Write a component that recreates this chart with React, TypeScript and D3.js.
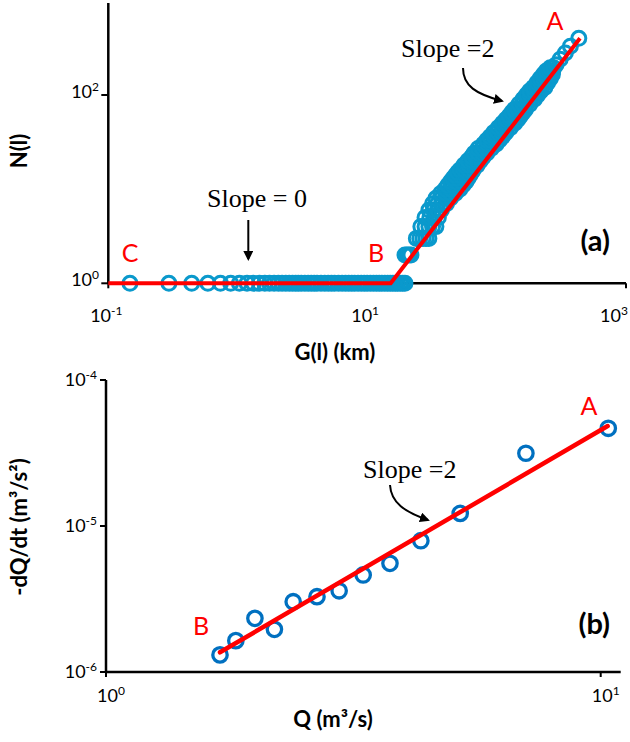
import React from 'react';
import * as d3 from 'd3';

// Panel (a): network extent N(l) versus length G(l)
// Stretch with a single unit (N = 1), plotted from the upstream end
const flatG = [
  0.147, 0.294, 0.441, 0.588, 0.735, 0.882, 1.03, 1.18, 1.32, 1.47, 1.62, 1.76, 1.91,
  2.06, 2.2, 2.35, 2.5, 2.65, 2.8, 2.94, 3.1, 3.3, 3.5, 3.7, 3.9, 4.1, 4.4, 4.7, 5.0,
  5.3, 5.6, 6.0, 6.4, 6.8, 7.2, 7.6, 8.0, 8.5, 9.0, 9.5, 10, 10.6, 11.2, 11.8, 12.4,
  13, 13.7, 14.4, 15.1, 15.8, 16.5, 17.2, 18, 18.8, 19.6,
];
// Growing part of the network (G in km, N count)
const riseG = [
  19.6, 20.3, 21, 21.8,
  24, 25.5, 27, 28.5, 30,
  26, 28, 30, 32, 34,
  28, 30.5, 33, 35.5,
  30, 32.5, 35, 37.5,
  32, 35, 38, 41,
  34, 37.5, 41, 44,
  37, 40.5, 44, 48,
  40, 44, 48, 52,
  42, 46, 50, 55,
  44, 48, 53, 58,
  46, 50, 55, 60,
  48, 52, 57, 62,
  50, 54, 59, 64,
  52, 56, 61, 66,
  56, 61, 66, 71,
  60, 65, 70, 75,
  64, 69, 74, 79,
  67, 72, 78, 84,
  72, 78, 84, 91,
  79, 85, 92, 99,
  84, 90, 97, 105,
  89, 96, 103, 111,
  95, 102, 110, 118,
  103, 111, 119, 128,
  111, 119, 128, 138,
  118, 127, 136, 146,
  125, 134, 143, 153,
  131, 140, 150, 160,
  137, 147, 157, 167,
  149, 160, 170, 181,
  160, 172, 184, 196,
  170, 182, 195, 208,
  180, 193, 206, 220,
  192, 205, 220, 236,
  205, 219, 233, 248,
  217, 231, 245, 260,
  230, 243, 257, 270,
  242, 256, 272,
  260, 276,
  288, 310, 340, 372, 432,
];
const riseN = [
  2, 2, 2, 2,
  3, 3, 3, 3, 3,
  4, 4, 4, 4, 4,
  5, 5, 5, 5,
  6, 6, 6, 6,
  7, 7, 7, 7,
  8, 8, 8, 8,
  9, 9, 9, 9,
  10, 10, 10, 10,
  11, 11, 11, 11,
  12, 12, 12, 12,
  13, 13, 13, 13,
  14, 14, 14, 14,
  15, 15, 15, 15,
  16, 16, 16, 16,
  18, 18, 18, 18,
  20, 20, 20, 20,
  22, 22, 22, 22,
  24, 24, 24, 24,
  27, 27, 27, 27,
  30, 30, 30, 30,
  33, 33, 33, 33,
  36, 36, 36, 36,
  40, 40, 40, 40,
  45, 45, 45, 45,
  50, 50, 50, 50,
  55, 55, 55, 55,
  60, 60, 60, 60,
  65, 65, 65, 65,
  70, 70, 70, 70,
  80, 80, 80, 80,
  90, 90, 90, 90,
  100, 100, 100, 100,
  110, 110, 110, 110,
  120, 120, 120, 120,
  135, 135, 135, 135,
  150, 150, 150, 150,
  165, 165, 165, 165,
  180, 180, 180,
  195, 195,
  210, 240, 280, 330, 400,
];
// Broken-line fit C -> B -> A
const fitAG = [0.1, 15.2, 441];
const fitAN = [1, 1, 400];

// Panel (b): recession rate -dQ/dt versus discharge Q
const flowQ = [1.70, 1.83, 2.0, 2.19, 2.39, 2.67, 2.96, 3.31, 3.75, 4.33, 5.2, 7.06, 10.36];
const recessionRate = [
  1.31e-6, 1.64e-6, 2.33e-6, 1.96e-6, 3.03e-6, 3.28e-6, 3.6e-6, 4.62e-6, 5.55e-6,
  7.93e-6, 1.22e-5, 3.15e-5, 4.67e-5,
];
const fitBQ = [1.7, 10.33];
const fitBRate = [1.364e-6, 4.84e-5];

// Tick exponents
const ticksAX = [-1, 1, 3];
const ticksAY = [0, 2];
const ticksBX = [0, 1];
const ticksBY = [-6, -5, -4];

const SANS = 'Lato, "Liberation Sans", sans-serif';
const SERIF = '"Liberation Serif", "DejaVu Serif", serif';

const xA = d3.scaleLog().domain([0.1, 1000]).range([108.3, 626]);
const yA = d3.scaleLog().domain([1, 1000]).range([283.3, 0.85]);
const xB = d3.scaleLog().domain([1, 10]).range([106, 600.7]);
const yB = d3.scaleLog().domain([1e-6, 1e-4]).range([672, 380]);

function Pow({ x, y, exp, anchor }: { x: number; y: number; exp: number; anchor: string }) {
  return (
    <text x={x} y={y} textAnchor={anchor} fontFamily={SANS} fontSize={18} fill="#000">
      10
      <tspan dy={-7} fontSize={12}>
        {exp < 0 ? '-' + Math.abs(exp) : String(exp)}
      </tspan>
    </text>
  );
}

function CurvedArrow({ d }: { d: string }) {
  return <path d={d} fill="none" stroke="#000" strokeWidth={2} markerEnd="url(#arrowHead)" />;
}

export default function App() {
  const lineA = d3
    .line<number>()
    .x((g) => xA(g))
    .y((_, i) => yA(fitAN[i]));
  const lineB = d3
    .line<number>()
    .x((q) => xB(q))
    .y((_, i) => yB(fitBRate[i]));

  const blueA = '#0a99cc';
  const blueB = '#0070c0';

  return (
    <svg
      width={630}
      height={742}
      style={{ position: 'absolute', left: 0, top: 0, display: 'block', background: '#fff' }}
    >
      <defs>
        <marker
          id="arrowHead"
          viewBox="0 0 10 10"
          refX={8}
          refY={5}
          markerWidth={5}
          markerHeight={5}
          orient="auto"
          markerUnits="strokeWidth"
        >
          <path d="M0,0 L10,5 L0,10 Z" fill="#000" />
        </marker>
      </defs>

      {/* ---------- Panel (a) ---------- */}
      <g>
        <line x1={xA(0.1)} x2={xA(1000)} y1={yA(1)} y2={yA(1)} stroke="#000" strokeWidth={2.5} />
        <line x1={xA(0.1)} x2={xA(0.1)} y1={3} y2={yA(1)} stroke="#000" strokeWidth={2.5} />
        {ticksAX.map((e) => (
          <line
            key={'tax' + e}
            x1={xA(10 ** e)}
            x2={xA(10 ** e)}
            y1={yA(1)}
            y2={yA(1) + 5}
            stroke="#000"
            strokeWidth={2}
          />
        ))}
        {ticksAY.map((e) => (
          <line
            key={'tay' + e}
            x1={xA(0.1) - 7}
            x2={xA(0.1)}
            y1={yA(10 ** e)}
            y2={yA(10 ** e)}
            stroke="#000"
            strokeWidth={2}
          />
        ))}
        {ticksAX.map((e) => (
          <Pow key={'lax' + e} x={Math.min(xA(10 ** e) - 2, 614)} y={322} exp={e} anchor="middle" />
        ))}
        {ticksAY.map((e) => (
          <Pow key={'lay' + e} x={99} y={yA(10 ** e) + 3} exp={e} anchor="end" />
        ))}

        {flatG.map((g, i) => (
          <circle key={'f' + i} cx={xA(g)} cy={yA(1)} r={7} fill="none" stroke={blueA} strokeWidth={3} />
        ))}
        {riseG.map((g, i) => (
          <circle key={'r' + i} cx={xA(g)} cy={yA(riseN[i])} r={7} fill="none" stroke={blueA} strokeWidth={3} />
        ))}
        <path d={lineA(fitAG) || ''} fill="none" stroke="#ff0000" strokeWidth={4} strokeLinejoin="miter" />

        <text x={130} y={262} textAnchor="middle" fontFamily={SANS} fontSize={25} fill="#ff0000">C</text>
        <text x={376} y={262} textAnchor="middle" fontFamily={SANS} fontSize={25} fill="#ff0000">B</text>
        <text x={555} y={30} textAnchor="middle" fontFamily={SANS} fontSize={25} fill="#ff0000">A</text>
        <text x={207} y={207} fontFamily={SERIF} fontSize={26} fill="#000">Slope = 0</text>
        <line x1={248.3} x2={248.3} y1={220} y2={259} stroke="#000" strokeWidth={2} markerEnd="url(#arrowHead)" />
        <text x={401} y={57} fontFamily={SERIF} fontSize={26} fill="#000">Slope =2</text>
        <CurvedArrow d="M463,68 C463,86 476,94 502,101" />
        <text x={610} y={251} textAnchor="end" fontFamily={SANS} fontWeight="bold" fontSize={29} fill="#000">(a)</text>

        <text x={335} y={360} textAnchor="middle" fontFamily={SANS} fontWeight="bold" fontSize={22}>G(l) (km)</text>
        <text
          transform="translate(27,151) rotate(-90)"
          textAnchor="middle"
          fontFamily={SANS}
          fontWeight="bold"
          fontSize={22}
        >
          N(l)
        </text>
      </g>

      {/* ---------- Panel (b) ---------- */}
      <g>
        <line x1={xB(1)} x2={xB.range()[1] + 20} y1={yB(1e-6)} y2={yB(1e-6)} stroke="#000" strokeWidth={2.5} />
        <line x1={xB(1)} x2={xB(1)} y1={yB(1e-4)} y2={yB(1e-6)} stroke="#000" strokeWidth={2.5} />
        {ticksBX.map((e) => (
          <line
            key={'tbx' + e}
            x1={xB(10 ** e)}
            x2={xB(10 ** e)}
            y1={yB(1e-6)}
            y2={yB(1e-6) + 5}
            stroke="#000"
            strokeWidth={2}
          />
        ))}
        {ticksBY.map((e) => (
          <line
            key={'tby' + e}
            x1={xB(1) - 6}
            x2={xB(1)}
            y1={yB(10 ** e)}
            y2={yB(10 ** e)}
            stroke="#000"
            strokeWidth={2}
          />
        ))}
        {ticksBX.map((e) => (
          <Pow key={'lbx' + e} x={xB(10 ** e) + 5} y={702} exp={e} anchor="middle" />
        ))}
        {ticksBY.map((e) => (
          <Pow key={'lby' + e} x={97} y={yB(10 ** e) + 6} exp={e} anchor="end" />
        ))}

        {flowQ.map((q, i) => (
          <circle key={'b' + i} cx={xB(q)} cy={yB(recessionRate[i])} r={7.2} fill="none" stroke={blueB} strokeWidth={3.3} />
        ))}
        <path d={lineB(fitBQ) || ''} fill="none" stroke="#ff0000" strokeWidth={4.5} strokeLinecap="round" />

        <text x={201} y={635} textAnchor="middle" fontFamily={SANS} fontSize={25} fill="#ff0000">B</text>
        <text x={589} y={415} textAnchor="middle" fontFamily={SANS} fontSize={25} fill="#ff0000">A</text>
        <text x={363} y={478} fontFamily={SERIF} fontSize={26} fill="#000">Slope =2</text>
        <CurvedArrow d="M390,485 C391,503 405,512 428,520" />
        <text x={610} y={634} textAnchor="end" fontFamily={SANS} fontWeight="bold" fontSize={29} fill="#000">(b)</text>

        <text x={333} y={727} textAnchor="middle" fontFamily={SANS} fontWeight="bold" fontSize={22}>Q (m³/s)</text>
        <text
          transform="translate(27,527) rotate(-90)"
          textAnchor="middle"
          fontFamily={SANS}
          fontWeight="bold"
          fontSize={22}
        >
          -dQ/dt (m³/s²)
        </text>
      </g>
    </svg>
  );
}
